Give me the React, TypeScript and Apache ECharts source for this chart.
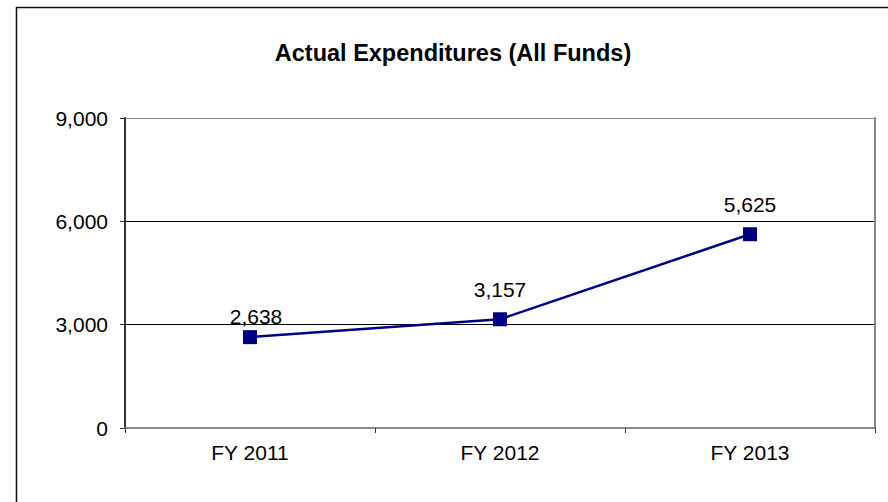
import React, { useEffect, useRef } from "react";
import * as echarts from "echarts";

const categories = ["FY 2011", "FY 2012", "FY 2013"];
const values = [2638, 3157, 5625];
const yTicks = [0, 3000, 6000, 9000];
const titleText = "Actual Expenditures (All Funds)";

export default function App() {
  const ref = useRef<HTMLDivElement>(null);
  useEffect(() => {
    if (!ref.current) return;
    const chart = echarts.init(ref.current, undefined, { renderer: "svg" });
    const font = "Liberation Sans, Arial, sans-serif";
    const fs = 21;
    chart.setOption({
      animation: false,
      backgroundColor: "#ffffff",
      title: {
        text: titleText,
        left: 448,
        top: 36,
        textAlign: "center",
        textStyle: { fontFamily: font, fontSize: 23.5, fontWeight: "bold", color: "#000" },
      },
      graphic: [
        {
          type: "rect",
          shape: { x: 16.5, y: 7.5, width: 900, height: 520 },
          style: { fill: "none", stroke: "#111", lineWidth: 1.5 },
          silent: true,
        },
      ],
      grid: {
        left: 125,
        top: 118,
        right: 13,
        bottom: 74,
        show: false,
      },
      xAxis: [
        {
          type: "category",
          data: categories,
          boundaryGap: true,
          axisLine: { lineStyle: { color: "#333", width: 2 } },
          axisTick: { show: true, alignWithLabel: false, length: 5, lineStyle: { color: "#333", width: 1 } },
          axisLabel: { fontFamily: font, fontSize: fs, color: "#000", margin: 14 },
          splitLine: { show: false },
        },
        {
          type: "category",
          data: categories,
          position: "top",
          axisLine: { show: true, lineStyle: { color: "#888", width: 2 } },
          axisTick: { show: false },
          axisLabel: { show: false },
          splitLine: { show: false },
        },
      ],
      yAxis: [
        {
          type: "value",
          min: yTicks[0],
          max: yTicks[yTicks.length - 1],
          interval: yTicks[1] - yTicks[0],
          axisLine: { show: true, lineStyle: { color: "#333", width: 2 } },
          axisTick: { show: true, length: 5, lineStyle: { color: "#333", width: 1 } },
          axisLabel: {
            fontFamily: font,
            fontSize: fs,
            color: "#000",
            margin: 17,
            formatter: (v: number) => v.toLocaleString("en-US"),
          },
          splitLine: { show: true, lineStyle: { color: ["#000", "#000", "#000", "#888"], width: 1 } },
        },
        {
          type: "value",
          position: "right",
          min: yTicks[0],
          max: yTicks[yTicks.length - 1],
          interval: yTicks[1] - yTicks[0],
          axisLine: { show: true, lineStyle: { color: "#888", width: 2 } },
          axisTick: { show: false },
          axisLabel: { show: false },
          splitLine: { show: false },
        },
      ],
      series: [
        {
          type: "line",
          data: values.map((v, i) =>
            i === 0 ? { value: v, label: { offset: [6, 9] } } : { value: v }
          ),
          symbol: "rect",
          symbolSize: 14,
          lineStyle: { color: "#000080", width: 2.5 },
          itemStyle: { color: "#000080" },
          label: {
            show: true,
            position: "top",
            distance: 12,
            fontFamily: font,
            fontSize: fs,
            color: "#000",
            formatter: (p: any) => Number(p.value).toLocaleString("en-US"),
          },
        },
      ],
    });
    return () => chart.dispose();
  }, []);
  return (
    <div
      ref={ref}
      style={{ position: "absolute", left: 0, top: 0, width: 888, height: 502 }}
    />
  );
}
